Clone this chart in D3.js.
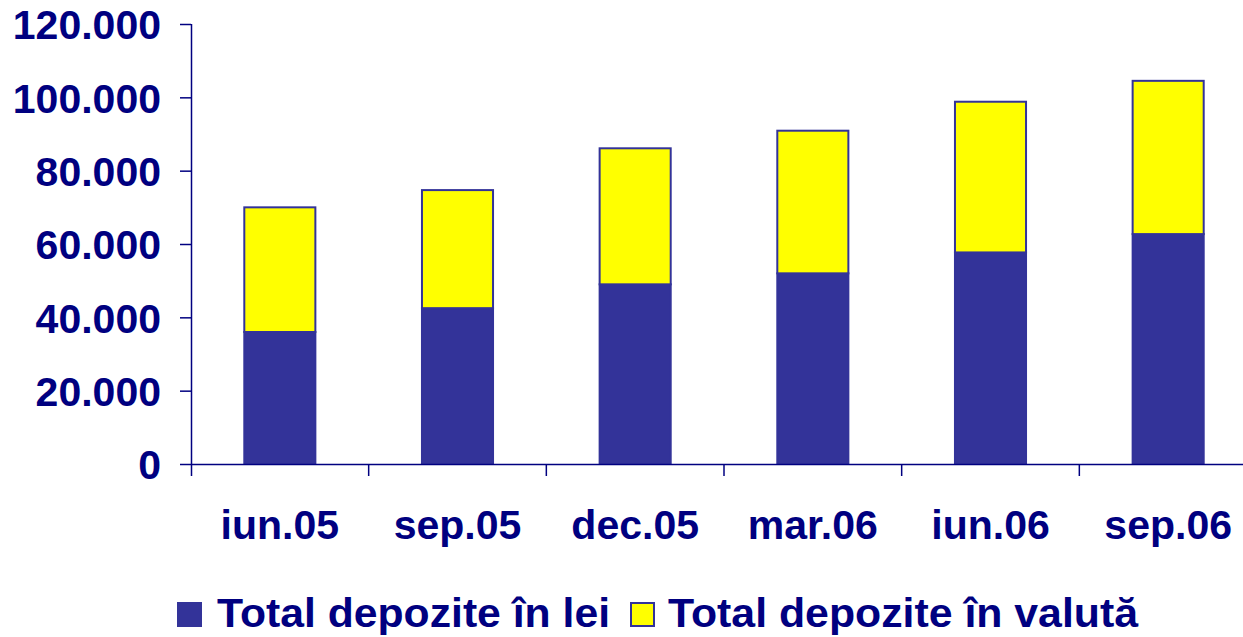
<!DOCTYPE html>
<html>
<head>
<meta charset="utf-8">
<script src="https://cdn.jsdelivr.net/npm/d3@7"></script>
<style>
  html, body { margin: 0; padding: 0; background: #ffffff; }
  svg { display: block; font-family: "Liberation Sans", Arial, sans-serif; }
</style>
</head>
<body>
<svg id="chart" width="1243" height="637"></svg>
<script>
// Stacked deposits: lei (bottom) + valută (top), quarterly 2005-2006.
const categories = ["iun.05", "sep.05", "dec.05", "mar.06", "iun.06", "sep.06"];
const depoziteLei = [36000, 42500, 49000, 52000, 57700, 62700];
const depoziteValuta = [34000, 32200, 37100, 38900, 41100, 41800];
const seriesNames = ["Total depozite în lei", "Total depozite în valută"];
const yTicks = [0, 20000, 40000, 60000, 80000, 100000, 120000];
const yTickLabels = ["0", "20.000", "40.000", "60.000", "80.000", "100.000", "120.000"];

const navy = "#000080";
const blue = "#333399";
const yellow = "#ffff00";

const svg = d3.select("#chart");

const plot = { left: 191, right: 1257, top: 24, bottom: 464 };

const x = d3.scaleBand()
  .domain(categories)
  .range([plot.left, plot.right])
  .padding(0);

const y = d3.scaleLinear()
  .domain([0, 120000])
  .range([plot.bottom, plot.top]);

const rows = categories.map((c, i) => ({
  cat: c,
  lei: depoziteLei[i],
  valuta: depoziteValuta[i]
}));

const stack = d3.stack().keys(["lei", "valuta"]);
const layers = stack(rows);
const fills = [blue, yellow];

// Excel-style bar: roughly 40% of the category slot, centred
const barW = x.bandwidth() * 0.4;

svg.append("g")
  .selectAll("g")
  .data(layers)
  .join("g")
  .attr("fill", (d, i) => fills[i])
  .attr("stroke", blue)
  .attr("stroke-width", 2)
  .selectAll("rect")
  .data(d => d)
  .join("rect")
  .attr("x", d => x(d.data.cat) + (x.bandwidth() - barW) / 2)
  .attr("y", d => y(d[1]))
  .attr("width", barW)
  .attr("height", d => y(d[0]) - y(d[1]));

// y axis
const yAxis = svg.append("g")
  .attr("transform", `translate(${plot.left},0)`)
  .call(d3.axisLeft(y)
    .tickValues(yTicks)
    .tickFormat((d, i) => yTickLabels[i])
    .tickSize(11)
    .tickPadding(19)
    .tickSizeOuter(0));

yAxis.select(".domain")
  .attr("stroke", navy)
  .attr("stroke-width", 1.5)
  .attr("d", `M0.5,${plot.top}V${plot.bottom + 12}`);
yAxis.selectAll(".tick line").attr("stroke", navy).attr("stroke-width", 1.5);
yAxis.selectAll(".tick text")
  .attr("fill", navy)
  .attr("font-size", 41)
  .attr("font-weight", "bold")
  .attr("dy", "0.36em");

// x axis: labels centred in slots, tick marks on slot boundaries
const xAxis = svg.append("g")
  .attr("transform", `translate(0,${plot.bottom})`)
  .call(d3.axisBottom(x).tickSize(0).tickPadding(46).tickSizeOuter(0));

xAxis.select(".domain")
  .attr("stroke", navy)
  .attr("stroke-width", 1.5)
  .attr("d", `M${plot.left},0.5H${plot.right}`);
xAxis.selectAll(".tick text")
  .attr("fill", navy)
  .attr("font-size", 41)
  .attr("font-weight", "bold");

xAxis.selectAll(".boundary")
  .data(categories.slice(1).concat(["__end"]))
  .join("line")
  .attr("class", "boundary")
  .attr("x1", d => d === "__end" ? plot.right : x(d))
  .attr("x2", d => d === "__end" ? plot.right : x(d))
  .attr("y1", 0)
  .attr("y2", 12)
  .attr("stroke", navy)
  .attr("stroke-width", 1.5);

// legend
const legendItems = [
  { name: seriesNames[0], fill: blue, sx: 177, tx: 217, w: 393 },
  { name: seriesNames[1], fill: yellow, sx: 630, tx: 668, w: 470 }
];

const legend = svg.append("g").attr("class", "legend");

legend.selectAll("rect")
  .data(legendItems)
  .join("rect")
  .attr("x", d => d.sx + 1)
  .attr("y", 603)
  .attr("width", 23)
  .attr("height", 23)
  .attr("fill", d => d.fill)
  .attr("stroke", blue)
  .attr("stroke-width", 2);

legend.selectAll("text")
  .data(legendItems)
  .join("text")
  .attr("x", d => d.tx)
  .attr("y", 627)
  .attr("fill", navy)
  .attr("font-size", 41)
  .attr("font-weight", "bold")
  .attr("textLength", d => d.w)
  .attr("lengthAdjust", "spacingAndGlyphs")
  .text(d => d.name);
</script>
</body>
</html>
